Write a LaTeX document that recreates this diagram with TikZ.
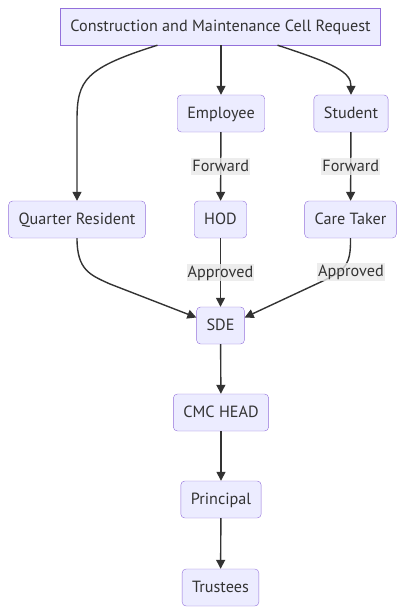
\documentclass[tikz,border=0pt]{standalone}
\usepackage{fontspec}
\setmainfont{PT Sans}
\usetikzlibrary{arrows.meta}

\definecolor{boxfill}{HTML}{ECECFF}
\definecolor{boxline}{HTML}{9370DB}
\definecolor{ink}{HTML}{333333}
\definecolor{lblbg}{HTML}{E8E8E8}

\begin{document}
\begin{tikzpicture}[x=1pt, y=-1pt,
  box/.style={rectangle, draw=boxline, fill=boxfill, rounded corners=4pt,
              minimum height=37pt, inner xsep=10pt, text=ink,
              text height=12.5pt, text depth=2pt,
              font=\fontsize{16.2}{18}\selectfont},
  arr/.style={-{Triangle[length=9pt,width=9pt]}, draw=ink, line width=1.4pt},
  lbl/.style={fill=lblbg, fill opacity=0.8, text opacity=1, text=ink,
              inner sep=1pt, text height=12.5pt, text depth=3pt,
              font=\fontsize{16.2}{18}\selectfont},
]
\useasboundingbox (0,0) rectangle (406,615);

\node[box, rounded corners=0pt] (req) at (220.5,26.5) {Construction and Maintenance Cell Request};
\node[box] (emp)  at (221,113.5) {Employee};
\node[box] (stu)  at (351,113.5) {Student};
\node[box] (qr)   at (77,219.5)  {Quarter Resident};
\node[box] (hod)  at (220.5,219.5) {HOD};
\node[box] (care) at (350.5,219.5) {Care Taker};
\node[box] (sde)  at (220.5,325.5) {SDE};
\node[box] (cmc)  at (221,412.5) {CMC HEAD};
\node[box] (prin) at (221,499.5) {Principal};
\node[box] (tru)  at (220.5,587.5) {Trustees};

% request to the three groups
\draw[arr] ([xshift=-63pt]req.south) .. controls (85,68) and (77,80) .. (77,120) -- (qr.north);
\draw[arr] (req.south -| emp.north) -- (emp.north);
\draw[arr] ([xshift=57pt]req.south) .. controls (335,64) and (351,72) .. (stu.north);

\draw[arr] (emp) -- node[lbl] {Forward} (hod);
\draw[arr] (stu) -- node[lbl] {Forward} (care);

% everyone meets at SDE
\draw[arr] (qr.south) .. controls (77,270) and (90,275) .. (110,284) -- ([yshift=8pt]sde.west);
\draw[arr] (hod) -- node[lbl] {Approved} (sde);
\draw[arr] (care.south) .. controls (351,265) and (345,270) .. (325,280) -- ([yshift=8pt]sde.east);
\node[lbl] (apr) at (351,272) {Approved};

\draw[arr] (sde) -- (cmc);
\draw[arr] (cmc) -- (prin);
\draw[arr] (prin) -- (tru);
\end{tikzpicture}
\end{document}
